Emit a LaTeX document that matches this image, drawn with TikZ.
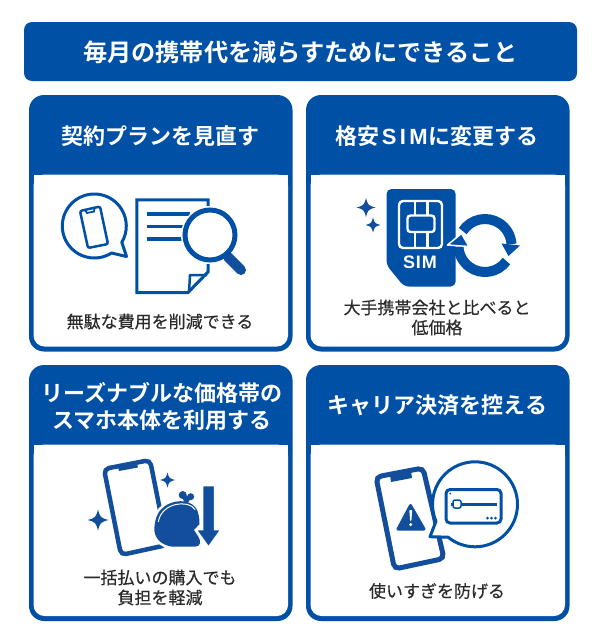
\documentclass[tikz,border=0pt]{standalone}
\usepackage{fontspec}
\setmainfont[FakeBold=0.3]{Noto Sans CJK JP}
\newfontfamily\jpbold{Noto Sans CJK JP Bold}
\newfontfamily\latinbold[LetterSpace=5]{Liberation Sans Bold}
\newfontfamily\latinwide[LetterSpace=15]{Liberation Sans Bold}
\definecolor{mainblue}{HTML}{0050A6}
\definecolor{iconblue}{HTML}{124E9B}
\definecolor{bodytext}{HTML}{2A2A2A}
\tikzset{
  titlebar/.style={text=white,font=\jpbold\fontsize{24.2}{27}\selectfont,align=center},
  banner/.style={text=white,font=\jpbold\fontsize{22}{27}\selectfont,align=center},
  body/.style={text=bodytext,font=\fontsize{17}{20}\selectfont,align=center},
  thin line/.style={draw=mainblue,line width=3pt},
  sparkle/.pic={\fill[iconblue] (-1,0) .. controls (-.25,-.2) and (-.2,-.25) .. (0,-1) .. controls (.2,-.25) and (.25,-.2) .. (1,0) .. controls (.25,.2) and (.2,.25) .. (0,1) .. controls (-.2,.25) and (-.25,.2) .. (-1,0) -- cycle;}
}
\newcommand{\card}[3]{%
  \fill[mainblue,rounded corners=15pt] (#1,#2) rectangle ++(263.5,#3);
  \fill[white,rounded corners=11pt] (#1+4.5,#2+79.5) -- ++(254.5,0) -- ++(0,#3-84.5) -- ++(-254.5,0) -- cycle;
  \fill[white] (#1+4.5,#2+79.5) rectangle ++(254.5,15);
}
\begin{document}
\begin{tikzpicture}[x=1pt,y=-1pt]
  \useasboundingbox (0,0) rectangle (600,640);
  \fill[white] (0,0) rectangle (600,640);
  \fill[mainblue,rounded corners=8pt] (24,22) rectangle (577,81);
  \node[titlebar] (title) at (300.5,52) {毎月の携帯代を減らすためにできること};

  \card{29}{95}{256.5}
  \card{306}{95}{256.5}
  \card{29}{365}{256}
  \card{306}{365}{256}

  \node[banner] (plan) at (160,136) {契約プランを見直す};
  \node[banner] (sim) at (437,136) {格安\hspace{2.5pt}{\latinwide SIM}\hspace{1pt}に変更する};
  \node[banner] (phone) at (162,406) {リーズナブルな価格帯の\\スマホ本体を利用する};
  \node[banner] (carrier) at (437.5,405) {キャリア決済を控える};

  \node[body] (plantext) at (160,321.5) {無駄な費用を削減できる};
  \node[body] (simtext) at (437,317.5) {大手携帯会社と比べると\\低価格};
  \node[body] (phonetext) at (160,587.5) {一括払いの購入でも\\負担を軽減};
  \node[body] (carriertext) at (437,591) {使いすぎを防げる};

  % speech bubble, document, magnifier
  \draw[thin line,line join=round] (94.3,226) ++(57.5:32) arc[start angle=57.5,end angle=390.7,radius=32] -- (126.5,256.5) -- cycle;
  \draw[mainblue,line width=2.5pt,rounded corners=2pt] (80,211) -- (100,206.5) -- (108,244) -- (88,248) -- cycle;
  \draw[mainblue,line width=1.8pt] (85,210) -- (87,213) -- (94,211.5) -- (94.5,208);
  \draw[thin line] (136.8,199.8) -- (208,199.8) -- (208,272) -- (188,292.5) -- (136.8,292.5) -- cycle;
  \draw[thin line,line width=2.5pt,line join=round] (189,292.5) -- (190,275) -- (207,275);
  \foreach \yy in {214,226.5,239}
    \draw[mainblue,line width=3.5pt] (147.3,\yy) -- (190,\yy);
  \draw[white,fill=white,line width=2pt] (210,235) circle[radius=28];
  \draw[iconblue,line width=10pt,line cap=round] (228,257) -- (241,270);
  \draw[mainblue,line width=5pt,fill=white] (210,235) circle[radius=25];

  % sim card and cycle arrows
  \fill[mainblue,rounded corners=5pt] (386.5,189) -- (455.7,189) -- (455.7,286.5) -- (404,286.5) -- (386.5,265) -- cycle;
  \draw[white,line width=2.4pt,rounded corners=4pt] (399,201) rectangle (442,248);
  \draw[white,line width=2.4pt,rounded corners=3pt] (407.5,215.5) rectangle (434.5,232);
  \foreach \xx in {415,427.5}{
    \draw[white,line width=2.4pt] (\xx,201) -- (\xx,215.5);
    \draw[white,line width=2.4pt] (\xx,232) -- (\xx,248);
  }
  \node[text=white,font=\latinbold\fontsize{18}{20}\selectfont,inner sep=0pt] (simlabel) at (420,262) {SIM};
  \draw[mainblue,line width=10pt] (485,245.5) ++(-147:26.5) arc[start angle=-147,end angle=-3,radius=26.5];
  \fill[mainblue] (501.5,243.5) -- (520,245.5) -- (508.5,256) -- cycle;
  \draw[mainblue,line width=10pt] (485,245.5) ++(36:26.5) arc[start angle=36,end angle=178,radius=26.5];
  \fill[mainblue,draw=white,line width=1.5pt,line join=round] (447.5,245) -- (469,246.5) -- (461.5,233.5) -- cycle;
  \pic[scale=9.5] at (366,207.5) {sparkle};
  \pic[scale=7.5] at (373,225) {sparkle};

  % phone, purse and down arrow
  \draw[iconblue,line width=4.5pt,rounded corners=5pt] (104,469) -- (150,460) -- (167,545) -- (121,555) -- cycle;
  \fill[iconblue] (118,467) -- (137,463.5) -- (138,467.5) -- (119,471) -- cycle;
  \pic[scale=7.5] at (167.5,480) {sparkle};
  \pic[scale=10.5] at (98,520) {sparkle};
  \def\pursepath{(154.3,528.3) .. controls (155,517) and (159,510) .. (165,506) .. controls (172,501) and (188,497.5) .. (196,508) .. controls (198.5,512) and (199.5,518) .. (199.5,524) -- (194,530) -- (198.5,537) .. controls (201,541) and (201,546.7) .. (195,546.7) -- (172,546.7) .. controls (161,545) and (154,538) .. (154.3,528.3) -- cycle}
  \draw[white,line width=5pt,line join=round] \pursepath;
  \fill[iconblue] \pursepath;
  \fill[iconblue] (182.7,495) circle[radius=4] (190.7,496.7) circle[radius=3.5] (186.5,499) circle[radius=3.5];
  \draw[white,line width=1pt,line cap=round] (158.3,521.7) .. controls (160,512) and (168,506) .. (176,504.5) .. controls (184,503) and (191,504) .. (195,509.5);
  \fill[iconblue,draw=white,line width=1.5pt] (202.5,485.5) -- (214.5,485.5) -- (214.5,529.5) -- (221,529.5) -- (208.5,547) -- (196,529.5) -- (202.5,529.5) -- cycle;

  % phone with warning, bubble with credit card
  \draw[iconblue,line width=5pt,rounded corners=5pt] (376,477) -- (423,468) -- (444,558.5) -- (394.5,569) -- cycle;
  \fill[iconblue] (390,475) -- (411,471) -- (412,478) -- (391,482) -- cycle;
  \fill[iconblue,draw=iconblue,line width=3pt,line join=round] (410.5,505.5) -- (424,529) -- (398,529) -- cycle;
  \fill[white,rounded corners=.8pt] (409.3,510) -- (412.2,510) -- (411.4,521) -- (410.1,521) -- cycle;
  \fill[white] (410.7,524.5) circle[radius=1.7];
  \draw[thin line,fill=white,line join=round] (475,504.3) ++(129.3:42.5) arc[start angle=129.3,end angle=-203.5,radius=42.5] -- (430,536.7) -- cycle;
  \draw[mainblue,line width=3pt,rounded corners=4pt] (446,489.5) rectangle (501,523);
  \draw[mainblue,line width=3pt] (451,504) -- (497,504);
  \draw[mainblue,line width=1.5pt,fill=white,rounded corners=2pt] (453,500) rectangle (461,508);
  \fill[mainblue] (451,492.5) -- (449,493.5) -- (451,494.5) -- cycle;
  \foreach \xx in {487.5,491.5,495.5}
    \fill[mainblue] (\xx,518) circle[radius=1.5];
\end{tikzpicture}
\end{document}
